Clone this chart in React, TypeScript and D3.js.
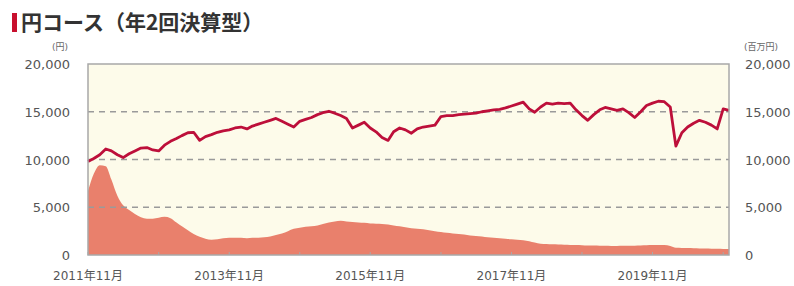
import * as d3 from 'd3'
import React from 'react'

// 基準価額（円）・純資産総額（百万円）月次、2011年11月〜2020年12月
const startMonth = new Date(2011, 10, 1)

const navValues = [
  9800, 10100,
  10500, 11100, 10900, 10500, 10200, 10600, 10900, 11200, 11250, 11000, 10900, 11500,
  11900, 12200, 12500, 12800, 12850, 12000, 12400, 12600, 12850, 13000, 13100, 13300,
  13400, 13200, 13500, 13700, 13900, 14100, 14300, 14000, 13700, 13400, 14000, 14200,
  14400, 14700, 14900, 15050, 14850, 14600, 14300, 13300, 13600, 13900, 13300, 12900,
  12300, 12000, 12900, 13300, 13100, 12750, 13200, 13400, 13500, 13600, 14500, 14600,
  14600, 14700, 14750, 14800, 14850, 15000, 15100, 15200, 15250, 15400, 15600, 15800,
  16000, 15300, 14950, 15500, 15900, 15800, 15900, 15850, 15900, 15200, 14600, 14100,
  14700, 15200, 15450, 15300, 15150, 15300, 14900, 14400, 15000, 15650, 15900, 16100,
  16050, 15500, 11400, 12800, 13400, 13800, 14100, 13900, 13600, 13200, 15300, 15150,
]

const assetValues = [
  6700, 8500,
  9400, 9300, 7900, 6200, 5200, 4700, 4300, 3950, 3800, 3800, 3900, 4000,
  3850, 3400, 3000, 2600, 2200, 1900, 1700, 1600, 1650, 1750, 1800, 1800,
  1800, 1750, 1800, 1800, 1850, 1950, 2100, 2250, 2500, 2750, 2850, 2950,
  3000, 3100, 3250, 3400, 3500, 3580, 3500, 3450, 3400, 3370, 3300, 3280,
  3250, 3200, 3100, 3000, 2900, 2800, 2750, 2700, 2600, 2500, 2400, 2320,
  2250, 2200, 2150, 2050, 2000, 1950, 1850, 1800, 1750, 1700, 1650, 1600,
  1550, 1450, 1300, 1180, 1150, 1120, 1100, 1080, 1060, 1050, 1030, 1000,
  990, 980, 970, 950, 950, 960, 970, 980, 1000, 1020, 1040, 1050,
  1050, 950, 760, 740, 720, 700, 690, 680, 660, 650, 640, 630,
]

const yTicks = [0, 5000, 10000, 15000, 20000]
const gridTicks = [5000, 10000, 15000]

const W = 794
const H = 286
const left = 88
const right = 729
const top = 64
const bottom = 255

const font = '"DejaVu Sans", "Noto Sans CJK JP", sans-serif'

const App: React.FC = () => {
  const dates = navValues.map((_, i) => d3.timeMonth.offset(startMonth, i))

  const x = d3.scaleTime().domain([dates[0], dates[dates.length - 1]]).range([left, right])
  const y = d3.scaleLinear().domain([0, 20000]).range([bottom, top])

  const line = d3
    .line<number>()
    .x((d, i) => x(dates[i]))
    .y((d) => y(d))
    .curve(d3.curveLinear)

  const area = d3
    .area<number>()
    .x((d, i) => x(dates[i]))
    .y0(bottom)
    .y1((d) => y(d))
    .curve(d3.curveMonotoneX)

  const xTicks = d3.timeMonths(startMonth, d3.timeMonth.offset(dates[dates.length - 1], 1), 12)
  const fmt = d3.format(',')

  return (
    <svg width={W} height={H} style={{ position: 'absolute', left: 0, top: 0, background: '#fff' }}>
      {/* title */}
      <rect x={12} y={13} width={5} height={19} fill='#c8102e' />
      <text x={21} y={30} fontSize={21} fontWeight='bold' fill='#333' fontFamily='"Noto Sans CJK JP", sans-serif'>
        円コース（年2回決算型）
      </text>

      {/* plot background */}
      <rect x={left} y={top} width={right - left} height={bottom - top} fill='#fdfbea' />

      {/* area */}
      <path d={area(assetValues) || ''} fill='#e9806c' />

      {/* grid */}
      {gridTicks.map((t) => (
        <line key={t} x1={left} x2={right} y1={y(t)} y2={y(t)} stroke='#9a9a9a' strokeWidth={1.4} strokeDasharray='6,5' />
      ))}

      {/* line */}
      <path d={line(navValues) || ''} fill='none' stroke='#bd0f3a' strokeWidth={2.8} strokeLinejoin='round' />

      {/* frame */}
      <rect x={left} y={top} width={right - left} height={bottom - top} fill='none' stroke='#a8a8a8' strokeWidth={1.5} />

      {/* x ticks */}
      {xTicks.map((d, i) => (
        <g key={i}>
          <line x1={x(d)} x2={x(d)} y1={bottom} y2={bottom - 3} stroke='#a8a8a8' strokeWidth={1} />
          {i % 2 === 0 && (
            <text x={x(d)} y={280} textAnchor='middle' fontSize={12} fill='#555' fontFamily={font}>
              {`${d.getFullYear()}年11月`}
            </text>
          )}
        </g>
      ))}

      {/* left axis */}
      <text x={60} y={50} textAnchor='middle' fontSize={9} fill='#666' fontFamily={font}>
        (円)
      </text>
      {yTicks.map((t) => (
        <text key={t} x={70} y={y(t) + 5} textAnchor='end' fontSize={13} fill='#555' fontFamily={font}>
          {fmt(t)}
        </text>
      ))}

      {/* right axis */}
      <text x={744} y={50} fontSize={9} fill='#666' fontFamily={font}>
        (百万円)
      </text>
      {yTicks.map((t) => (
        <text key={t} x={745} y={y(t) + 5} fontSize={13} fill='#555' fontFamily={font}>
          {fmt(t)}
        </text>
      ))}
    </svg>
  )
}

export default App
